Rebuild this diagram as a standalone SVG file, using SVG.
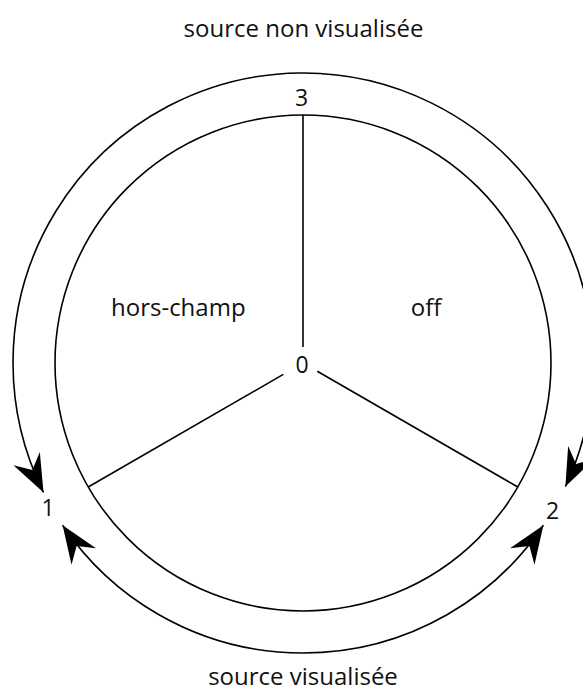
<svg xmlns="http://www.w3.org/2000/svg" width="583" height="691" viewBox="0 0 583 691">
  <style>
    .ln { fill: none; stroke: #000; stroke-width: 1.6; }
    .lbl { font-family: "Open Sans", "Noto Sans", sans-serif; font-size: 24px; fill: #111; text-anchor: middle; }
    .num { font-family: "Open Sans", "Noto Sans", sans-serif; font-size: 23px; fill: #111; text-anchor: middle; }
  </style>
  <defs>
    <marker id="arr" markerUnits="userSpaceOnUse" markerWidth="40" markerHeight="40" refX="0" refY="0" orient="auto-start-reverse" overflow="visible">
      <path d="M0,0 L-37.8,-14.75 L-25,0 L-37.8,14.75 Z" fill="#000"/>
    </marker>
  </defs>

  <g id="circle">
    <circle class="ln" cx="303" cy="363" r="248"/>
  </g>

  <g id="spokes">
    <line class="ln" x1="303" y1="115" x2="303" y2="347"/>
    <line class="ln" x1="283.3" y1="374.4" x2="88.2" y2="487"/>
    <line class="ln" x1="317.3" y1="371.3" x2="517.8" y2="487"/>
  </g>

  <g id="connectors">
    <path class="ln" d="M 43.5,492.4 A 290 290 0 1 1 565.4,486.5" marker-start="url(#arr)" marker-end="url(#arr)"/>
    <path class="ln" d="M 62.6,525.2 A 290 290 0 0 0 543.4,525.2" marker-start="url(#arr)" marker-end="url(#arr)"/>
  </g>

  <g id="node-0"><text class="num" x="302" y="372.5">0</text></g>
  <g id="node-1"><text class="num" x="48" y="516">1</text></g>
  <g id="node-2"><text class="num" x="552.5" y="519">2</text></g>
  <g id="node-3"><text class="num" x="301.5" y="106">3</text></g>

  <g id="region-hors-champ"><text class="lbl" x="178.3" y="316">hors-champ</text></g>
  <g id="region-off"><text class="lbl" x="426" y="316">off</text></g>
  <g id="label-top"><text class="lbl" x="303.5" y="37">source non visualisée</text></g>
  <g id="label-bottom"><text class="lbl" x="303" y="685">source visualisée</text></g>
</svg>
